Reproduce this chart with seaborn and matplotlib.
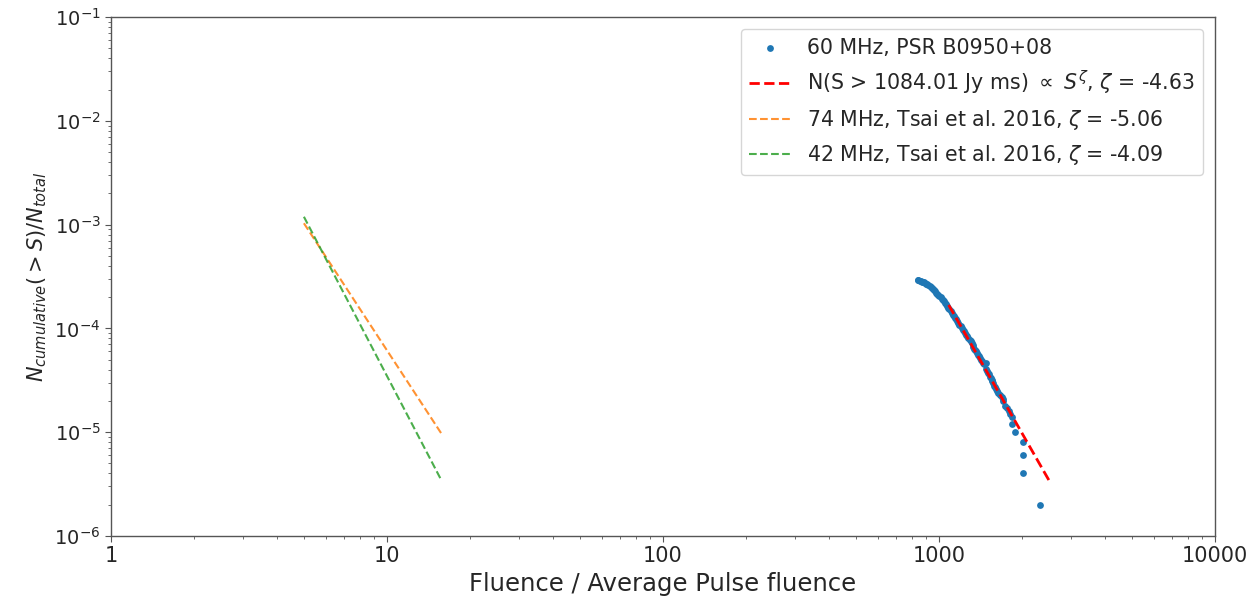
import numpy as np
import pandas as pd
import matplotlib
matplotlib.use("Agg")
import matplotlib.pyplot as plt
import seaborn as sns

# ---- data ----
fluence = [837, 842, 850, 858, 866, 875, 883, 890, 899, 908, 916, 924, 932, 941,
           950, 959, 968, 977, 985, 994, 1003, 1013, 1022, 1032, 1041, 1051, 1061,
           1071, 1081, 1091, 1101, 1112, 1122, 1133, 1143, 1154, 1164, 1175, 1186,
           1197, 1209, 1220, 1231, 1243, 1255, 1266, 1278, 1290, 1302, 1314, 1323,
           1332, 1341, 1351, 1360, 1369, 1381, 1394, 1407, 1420, 1434, 1447, 1460,
           1480, 1485, 1497, 1509, 1520, 1531, 1542, 1552, 1562, 1573, 1584, 1596,
           1607, 1618, 1640, 1662, 1686, 1700, 1710, 1728, 1760, 1790, 1808, 1834,
           1834, 1880, 2010, 2020, 2020, 2323]
ncum = [2.95e-4, 2.93e-4, 2.88e-4, 2.85e-4, 2.82e-4, 2.79e-4, 2.77e-4, 2.74e-4,
        2.70e-4, 2.65e-4, 2.60e-4, 2.55e-4, 2.50e-4, 2.45e-4, 2.39e-4, 2.33e-4,
        2.27e-4, 2.21e-4, 2.16e-4, 2.11e-4, 2.05e-4, 1.99e-4, 1.93e-4, 1.87e-4,
        1.82e-4, 1.76e-4, 1.70e-4, 1.64e-4, 1.58e-4, 1.53e-4, 1.47e-4, 1.41e-4,
        1.36e-4, 1.31e-4, 1.26e-4, 1.22e-4, 1.17e-4, 1.13e-4, 1.09e-4, 1.05e-4,
        1.01e-4, 9.7e-5, 9.4e-5, 9.0e-5, 8.7e-5, 8.4e-5, 8.0e-5, 7.8e-5, 7.5e-5,
        7.2e-5, 6.9e-5, 6.6e-5, 6.4e-5, 6.2e-5, 6.0e-5, 5.8e-5, 5.6e-5, 5.4e-5,
        5.2e-5, 5.0e-5, 4.8e-5, 4.6e-5, 4.5e-5, 4.6e-5, 4.1e-5, 3.9e-5, 3.7e-5,
        3.6e-5, 3.4e-5, 3.3e-5, 3.2e-5, 3.1e-5, 3.0e-5, 2.8e-5, 2.7e-5, 2.6e-5,
        2.5e-5, 2.4e-5, 2.3e-5, 2.2e-5, 2.1e-5, 2.0e-5, 1.8e-5, 1.7e-5, 1.6e-5,
        1.5e-5, 1.4e-5, 1.2e-5, 1.0e-5, 8e-6, 6e-6, 4e-6, 2e-6]

fit_x = [1084.01, 2525]
fit_y = [1.68e-4, 3.3e-6]

tsai74_x = [5.0, 15.7]
tsai74_y = [1.03e-3, 9.8e-6]

tsai42_x = [5.0, 15.6]
tsai42_y = [1.19e-3, 3.6e-6]

labels = ["60 MHz, PSR B0950+08",
          r"N(S > 1084.01 Jy ms) $\propto$ $S^{\zeta}$, $\zeta$ = -4.63",
          r"74 MHz, Tsai et al. 2016, $\zeta$ = -5.06",
          r"42 MHz, Tsai et al. 2016, $\zeta$ = -4.09"]

xtick_vals = [1, 10, 100, 1000, 10000]
xtick_labels = ["1", "10", "100", "1000", "10000"]

# ---- plot ----
sns.set_style("ticks")
plt.rcParams['font.family'] = ['DejaVu Sans']
plt.rcParams['mathtext.fontset'] = 'dejavusans'

fig = plt.figure(figsize=(12.5, 6.01), dpi=100)
ax = fig.add_axes([0.0888, 0.1082, 0.8832, 0.8635])

pts = pd.DataFrame({"x": fluence, "y": ncum})
sns.scatterplot(data=pts, x="x", y="y", ax=ax, color="#1f77b4", s=24,
                linewidth=0, label=labels[0], zorder=2)

sns.lineplot(x=fit_x, y=fit_y, ax=ax, color="red", linestyle="--", lw=2,
             label=labels[1], sort=False, estimator=None, zorder=3)
sns.lineplot(x=tsai74_x, y=tsai74_y, ax=ax, color="#ff7f0e", linestyle="--",
             lw=1.5, alpha=0.85, label=labels[2], sort=False, estimator=None)
sns.lineplot(x=tsai42_x, y=tsai42_y, ax=ax, color="#2ca02c", linestyle="--",
             lw=1.5, alpha=0.85, label=labels[3], sort=False, estimator=None)

ax.set_xscale("log")
ax.set_yscale("log")
ax.set_xlim(1, 10000)
ax.set_ylim(1e-6, 1e-1)
ax.set_xticks(xtick_vals)
ax.set_xticklabels(xtick_labels)

ax.tick_params(axis="both", which="major", labelsize=14, direction="out",
               length=4, color="#555555")
ax.tick_params(axis="both", which="minor", direction="out", length=2.5,
               color="#555555")
for sp in ax.spines.values():
    sp.set_color("#555555")
    sp.set_linewidth(1.0)

for lab in ax.get_xticklabels():
    lab.set_fontsize(15)

ax.set_xlabel("Fluence / Average Pulse fluence", fontsize=17.5)
ax.set_ylabel(r"$N_{cumulative}(>S)/N_{total}$", fontsize=15)

leg = ax.legend(loc="upper right", fontsize=14.8, frameon=True,
                borderaxespad=0.6, labelspacing=0.55, handlelength=2.0)
leg.get_frame().set_edgecolor("#cccccc")

fig.savefig("out.png", dpi=100)
